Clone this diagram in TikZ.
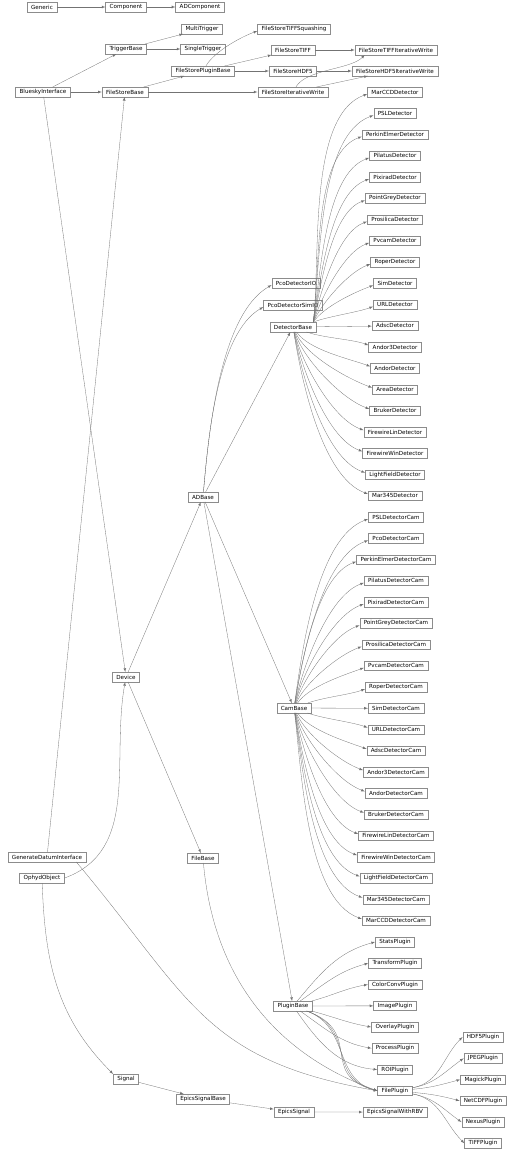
\documentclass[tikz,border=0pt]{standalone}
\usepackage{fontspec}
\newfontfamily\clsfont{DejaVu Sans}
\usetikzlibrary{arrows}

\begin{document}
\begin{tikzpicture}[
     x=1pt, y=-1pt,
     % define styles
     cls/.style={
         draw=black!45,
         line width=0.5pt,
         fill=white,
         font=\clsfont\fontsize{5.6}{6}\selectfont,
         inner xsep=4pt,
         inner ysep=0pt,
         minimum height=9.5pt
     },
     edge/.style={
         ->,
         draw=black!55,
         line width=0.3pt
     },
     fan/.style={
         edge,
         looseness=0.7
     },
     >=latex
]
\useasboundingbox (0,0) rectangle (511,1152);

% first column
\node[cls] (Generic) at (42,7) {Generic};
\node[cls] (BlueskyInterface) at (43,92) {BlueskyInterface};
\node[cls] (GenerateDatumInterface) at (47,857) {GenerateDatumInterface};
\node[cls] (OphydObject) at (42,878) {OphydObject};

% second column
\node[cls] (Component) at (126,7) {Component};
\node[cls] (TriggerBase) at (126,49) {TriggerBase};
\node[cls] (FileStoreBase) at (125,92) {FileStoreBase};
\node[cls] (Device) at (126,677) {Device};
\node[cls] (Signal) at (126,1079) {Signal};

% third column
\node[cls] (ADComponent) at (200,7) {ADComponent};
\node[cls] (MultiTrigger) at (202,29) {MultiTrigger};
\node[cls] (SingleTrigger) at (203,49) {SingleTrigger};
\node[cls] (FileStorePluginBase) at (203,71) {FileStorePluginBase};
\node[cls] (ADBase) at (203,497) {ADBase};
\node[cls] (FileBase) at (203,858) {FileBase};
\node[cls] (EpicsSignalBase) at (203,1099) {EpicsSignalBase};

% fourth column
\node[cls] (FileStoreTIFFSquashing) at (294,29) {FileStoreTIFFSquashing};
\node[cls] (FileStoreTIFF) at (293,50) {FileStoreTIFF};
\node[cls] (FileStoreHDF5) at (293,71) {FileStoreHDF5};
\node[cls] (FileStoreIterativeWrite) at (293,92) {FileStoreIterativeWrite};
\node[cls] (PcoDetectorIO) at (296,283) {PcoDetectorIO};
\node[cls] (PcoDetectorSimIO) at (293,305) {PcoDetectorSimIO};
\node[cls] (DetectorBase) at (293,327) {DetectorBase};
\node[cls] (CamBase) at (294,708) {CamBase};
\node[cls] (PluginBase) at (293,1006) {PluginBase};
\node[cls] (EpicsSignal) at (294,1112) {EpicsSignal};

% fifth column
\node[cls] (FileStoreTIFFIterativeWrite) at (396,50) {FileStoreTIFFIterativeWrite};
\node[cls] (FileStoreHDF5IterativeWrite) at (395,71) {FileStoreHDF5IterativeWrite};
\foreach \n [count=\i from 0] in {MarCCDDetector,PSLDetector,PerkinElmerDetector,
    PilatusDetector,PixiradDetector,PointGreyDetector,ProsilicaDetector,PvcamDetector,
    RoperDetector,SimDetector,URLDetector,AdscDetector,Andor3Detector,AndorDetector,
    AreaDetector,BrukerDetector,FirewireLinDetector,FirewireWinDetector,
    LightFieldDetector,Mar345Detector}
  \node[cls] (\n) at (395,{92+21.26*\i}) {\n};
\foreach \n [count=\i from 0] in {PSLDetectorCam,PcoDetectorCam,PerkinElmerDetectorCam,
    PilatusDetectorCam,PixiradDetectorCam,PointGreyDetectorCam,ProsilicaDetectorCam,
    PvcamDetectorCam,RoperDetectorCam,SimDetectorCam,URLDetectorCam,AdscDetectorCam,
    Andor3DetectorCam,AndorDetectorCam,BrukerDetectorCam,FirewireLinDetectorCam,
    FirewireWinDetectorCam,LightFieldDetectorCam,Mar345DetectorCam,MarCCDDetectorCam}
  \node[cls] (\n) at (396,{517+21.26*\i}) {\n};
\foreach \n [count=\i from 0] in {StatsPlugin,TransformPlugin,ColorConvPlugin,
    ImagePlugin,OverlayPlugin,ProcessPlugin,ROIPlugin,FilePlugin,EpicsSignalWithRBV}
  \node[cls] (\n) at (395,{942+21.26*\i}) {\n};

% sixth column
\foreach \n [count=\i from 0] in {HDF5Plugin,JPEGPlugin,MagickPlugin,NetCDFPlugin,
    NexusPlugin,TIFFPlugin}
  \node[cls] (\n) at (483,{1037+21.26*\i}) {\n};

% top rows
\draw[edge] (Generic) -- (Component);
\draw[edge] (Component) -- (ADComponent);
\draw[edge] (TriggerBase) -- (MultiTrigger);
\draw[edge] (TriggerBase) -- (SingleTrigger);
\draw[edge] (BlueskyInterface) -- (TriggerBase);
\draw[edge] (BlueskyInterface) -- (FileStoreBase);
\draw[edge] (BlueskyInterface) -- (Device);
\draw[edge] (GenerateDatumInterface) -- (FileStoreBase);
\draw[edge] (FileStoreBase) -- (FileStorePluginBase);
\draw[edge] (FileStoreBase) -- (FileStoreIterativeWrite);
\draw[fan] (FileStorePluginBase) to[out=60,in=200] ([yshift=-2pt]FileStoreTIFFSquashing.west);
\draw[edge] (FileStorePluginBase) -- (FileStoreTIFF);
\draw[edge] (FileStorePluginBase) -- (FileStoreHDF5);
\draw[edge] (FileStoreTIFF) -- (FileStoreTIFFIterativeWrite);
\draw[edge] (FileStoreHDF5) -- (FileStoreHDF5IterativeWrite);
\draw[fan] (FileStoreIterativeWrite) to[out=60,in=225] ([xshift=10pt]FileStoreTIFFIterativeWrite.south west);
\draw[edge] (FileStoreIterativeWrite) -- ([xshift=16pt]FileStoreHDF5IterativeWrite.south west);

% device and ADBase
\draw[edge] (OphydObject.east) to[out=20,in=-100] (Device);
\draw[edge] (OphydObject) to[out=-88,in=135] (Signal.north west);
\draw[edge] (Device) -- (ADBase);
\draw[edge] (Device) -- (FileBase);
\draw[fan] (ADBase) to[out=85,in=210] ([yshift=-2pt]PcoDetectorIO.west);
\draw[fan] (ADBase) to[out=85,in=210] ([yshift=-2pt]PcoDetectorSimIO.west);
\draw[edge] (ADBase) -- (DetectorBase);
\draw[edge] (ADBase) -- (CamBase);
\draw[edge] (ADBase) -- (PluginBase);

% DetectorBase
\foreach \n [count=\k] in {URLDetector,SimDetector,RoperDetector,PvcamDetector,
    ProsilicaDetector,PointGreyDetector,PixiradDetector,PilatusDetector,
    PerkinElmerDetector,PSLDetector,MarCCDDetector}{
  \pgfmathtruncatemacro\ang{90-70/\k}
  \draw[fan] ([xshift=-3pt]DetectorBase.north east) to[out=\ang,in=200] ([yshift=-2pt]\n.west);
}
\draw[edge] (DetectorBase) -- (AdscDetector);
\foreach \n [count=\k] in {Andor3Detector,AndorDetector,AreaDetector,BrukerDetector,
    FirewireLinDetector,FirewireWinDetector,LightFieldDetector,Mar345Detector}{
  \pgfmathtruncatemacro\ang{-90+70/\k}
  \draw[fan] (DetectorBase) to[out=\ang,in=160] ([yshift=2pt]\n.west);
}

% CamBase
\foreach \n [count=\k] in {RoperDetectorCam,PvcamDetectorCam,ProsilicaDetectorCam,
    PointGreyDetectorCam,PixiradDetectorCam,PilatusDetectorCam,
    PerkinElmerDetectorCam,PcoDetectorCam,PSLDetectorCam}{
  \pgfmathtruncatemacro\ang{90-70/\k}
  \draw[fan] (CamBase) to[out=\ang,in=200] ([yshift=-2pt]\n.west);
}
\draw[edge] (CamBase) -- (SimDetectorCam);
\foreach \n [count=\k] in {URLDetectorCam,AdscDetectorCam,Andor3DetectorCam,
    AndorDetectorCam,BrukerDetectorCam,FirewireLinDetectorCam,
    FirewireWinDetectorCam,LightFieldDetectorCam,Mar345DetectorCam,MarCCDDetectorCam}{
  \pgfmathtruncatemacro\ang{-90+70/\k}
  \draw[fan] (CamBase) to[out=\ang,in=160] ([yshift=2pt]\n.west);
}

% plugins
\foreach \n/\o/\i in {StatsPlugin/50/195,TransformPlugin/35/195,ColorConvPlugin/15/190,
    OverlayPlugin/-15/170,ProcessPlugin/-35/170,ROIPlugin/-55/175}
  \draw[edge] (PluginBase) to[out=\o,in=\i] (\n.west);
\draw[edge] (PluginBase) -- (ImagePlugin);
\foreach \l in {1.1,1.3,1.5}
  \draw[edge] (PluginBase) to[out=-20,in=165,looseness=\l] (FilePlugin.west);
\draw[edge] ([xshift=-10pt]GenerateDatumInterface.south east) to[out=-50,in=170,looseness=1.2] (FilePlugin.west);
\draw[edge] (FileBase) to[out=-85,in=160] (FilePlugin.west);
\foreach \n/\o/\i in {HDF5Plugin/10/225,JPEGPlugin/10/215,MagickPlugin/5/195,
    NetCDFPlugin/-5/165,NexusPlugin/-10/145,TIFFPlugin/-10/135}
  \draw[edge] (FilePlugin) to[out=\o,in=\i] (\n.west);

% signals
\draw[edge] (Signal) -- (EpicsSignalBase);
\draw[edge] (EpicsSignalBase) -- (EpicsSignal);
\draw[edge] (EpicsSignal) -- (EpicsSignalWithRBV);

\end{tikzpicture}
\end{document}
